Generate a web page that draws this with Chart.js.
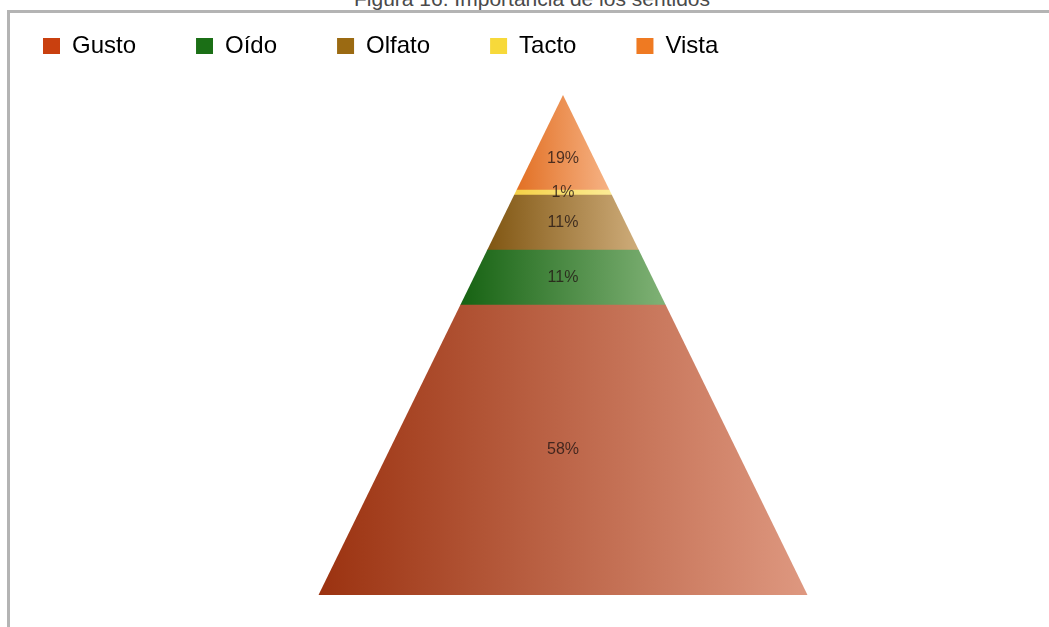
<!DOCTYPE html>
<html lang="es">
<head>
<meta charset="utf-8">
<title>Importancia de los sentidos</title>
<script src="https://cdn.jsdelivr.net/npm/chart.js@4.4.1/dist/chart.umd.min.js"></script>
<style>
  html, body { margin: 0; padding: 0; background: #fff; overflow: hidden; width: 1049px; height: 627px; }
  #caption {
    position: absolute; left: 0; top: -12px; width: 1064px; text-align: center;
    font: 21px "Liberation Sans", Arial, sans-serif; line-height: 21px; color: #4a4a4a;
  }
  #frame {
    position: absolute; left: 7px; top: 10px; width: 1100px; height: 700px;
    border-left: 3px solid #b4b4b4; border-top: 3px solid #b4b4b4;
  }
  #pyramid { position: absolute; left: -17px; top: -26px; }
</style>
</head>
<body>
<div id="caption">Figura 16. Importancia de los sentidos</div>
<div id="frame"></div>
<canvas id="pyramid" width="1160" height="621"></canvas>
<script>
// bottom to top of the pyramid
const senses = ['Gusto', 'Oído', 'Olfato', 'Tacto', 'Vista'];
const shares = [58, 11, 11, 1, 19];

const legendColors = ['#c9400f', '#1b6f16', '#9b6a12', '#f7d93a', '#ef7a22'];
const shadeLeft = ['rgb(155,50,16)', 'rgb(22,98,18)', 'rgb(128,86,18)', 'rgb(245,208,70)', 'rgb(226,112,36)'];
const shadeRight = ['rgb(222,152,128)', 'rgb(128,178,118)', 'rgb(206,172,122)', 'rgb(252,236,150)', 'rgb(246,178,132)'];

const BASE_WIDTH = 489;
const total = shares.reduce((a, b) => a + b, 0);

function geometry(chart) {
  const xs = chart.scales.x, ys = chart.scales.y;
  return {
    cx: xs.getPixelForValue(0),
    half: BASE_WIDTH / 2,
    apex: ys.getPixelForValue(total),
    base: ys.getPixelForValue(0),
  };
}

// horizontal dark-to-light shade across each band's own width
function bandFill(context) {
  const chart = context.chart;
  const i = context.datasetIndex;
  if (!chart.chartArea || !chart.scales.y) return legendColors[i];
  const g = geometry(chart);
  const below = shares.slice(0, i).reduce((a, b) => a + b, 0);
  const yb = chart.scales.y.getPixelForValue(below);
  const hw = g.half * (yb - g.apex) / (g.base - g.apex);
  const grad = chart.ctx.createLinearGradient(g.cx - hw, 0, g.cx + hw, 0);
  grad.addColorStop(0, shadeLeft[i]);
  grad.addColorStop(1, shadeRight[i]);
  return grad;
}

const triangleClip = {
  id: 'triangleClip',
  beforeDatasetsDraw(chart) {
    const g = geometry(chart);
    const ctx = chart.ctx;
    ctx.save();
    ctx.beginPath();
    ctx.moveTo(g.cx, g.apex);
    ctx.lineTo(g.cx + g.half, g.base);
    ctx.lineTo(g.cx - g.half, g.base);
    ctx.closePath();
    ctx.clip();
  },
  afterDatasetsDraw(chart) {
    const ctx = chart.ctx;
    ctx.restore();

    ctx.save();
    ctx.font = '16px "Liberation Sans", Arial, sans-serif';
    ctx.fillStyle = 'rgba(35,22,20,0.8)';
    ctx.textAlign = 'center';
    ctx.textBaseline = 'middle';
    chart.data.datasets.forEach((ds, i) => {
      const bar = chart.getDatasetMeta(i).data[0];
      const top = Math.min(bar.y, bar.base), bottom = Math.max(bar.y, bar.base);
      // the tip is a triangle, put its label lower where it is wider
      const y = i === senses.length - 1 ? top + (bottom - top) * 2 / 3 : (top + bottom) / 2;
      ctx.fillText(shares[i] + '%', bar.x, y);
    });
    ctx.restore();
  }
};

new Chart(document.getElementById('pyramid'), {
  type: 'bar',
  data: {
    labels: ['Sentidos'],
    datasets: senses.map((name, i) => ({
      label: name,
      data: [shares[i]],
      backgroundColor: bandFill,
      borderWidth: 0,
      barThickness: BASE_WIDTH,
    })),
  },
  options: {
    responsive: false,
    animation: false,
    layout: { padding: 0 },
    scales: {
      x: { stacked: true, display: false },
      y: { stacked: true, display: false, min: 0, max: total * 1.054 },
    },
    plugins: {
      title: { display: false },
      tooltip: { enabled: false },
      legend: {
        position: 'top',
        align: 'start',
        labels: {
          boxWidth: 17,
          boxHeight: 16,
          padding: 60,
          color: '#1a1a1a',
          font: { family: '"Liberation Sans", Arial, sans-serif', size: 24 },
          generateLabels: () => senses.map((name, i) => ({
            text: name,
            fillStyle: legendColors[i],
            strokeStyle: legendColors[i],
            lineWidth: 0,
            hidden: false,
            datasetIndex: i,
          })),
        },
      },
    },
  },
  plugins: [triangleClip],
});
</script>
</body>
</html>
